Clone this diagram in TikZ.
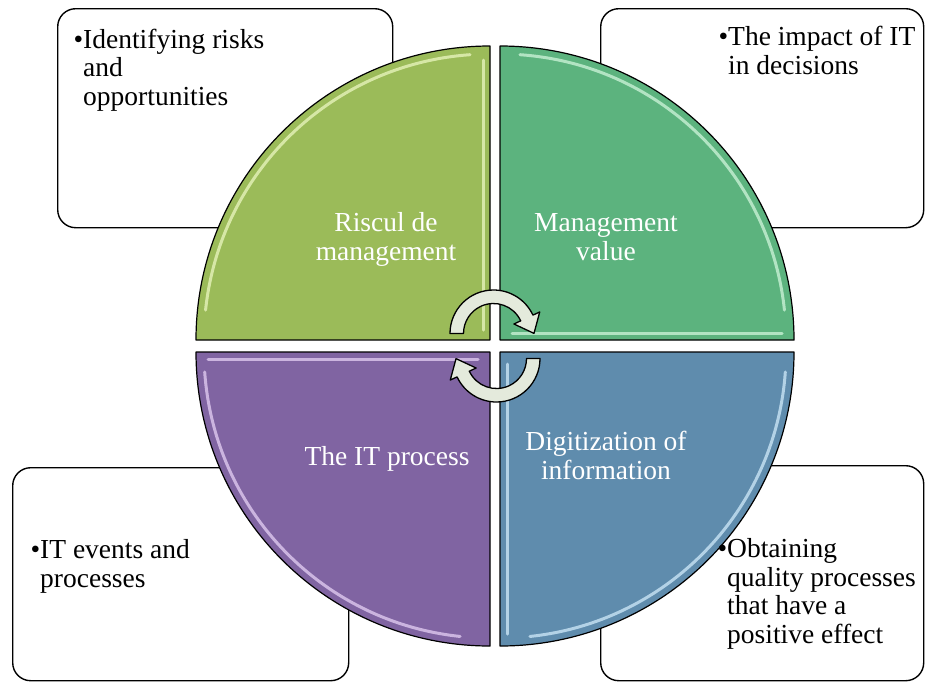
\documentclass[tikz,border=0pt]{standalone}
\usepackage{fontspec}
\setmainfont{Liberation Serif}
\usetikzlibrary{calc}
\definecolor{qgreen}{RGB}{155,187,89}
\definecolor{qteal}{RGB}{92,179,126}
\definecolor{qpurple}{RGB}{128,100,162}
\definecolor{qblue}{RGB}{95,140,173}
\definecolor{rimgreen}{RGB}{240,250,200}
\definecolor{rimteal}{RGB}{215,250,225}
\definecolor{rimpurple}{RGB}{235,215,250}
\definecolor{rimblue}{RGB}{215,240,255}
\definecolor{arrowfill}{RGB}{228,234,220}
\begin{document}
\begin{tikzpicture}[x=1pt,y=-1pt,
  infobox/.style={draw=black, line width=1.4pt, fill=white, rounded corners=18pt, anchor=north west, inner sep=0pt},
  quad/.style={draw=black, line width=1.2pt, line join=round},
  rim/.style={line width=3pt, opacity=0.7, line cap=round},
  qtext/.style={text=white, font=\fontsize{27.5}{28.5}\selectfont, align=center, inner sep=0pt, anchor=base},
  btext/.style={text=black, font=\fontsize{27.5}{28.5}\selectfont, align=left, inner sep=0pt, anchor=base west},
  cyc/.style={fill=arrowfill, draw=black, line width=1.3pt, line join=round}]
\useasboundingbox (0,0) rectangle (925,681);
\fill[white] (0,0) rectangle (925,681);

% info boxes
\node[infobox, minimum width=335pt, minimum height=219pt] (boxTL) at (57,8) {};
\node[infobox, minimum width=323pt, minimum height=219pt] (boxTR) at (600,8) {};
\node[infobox, minimum width=336pt, minimum height=213pt] (boxBL) at (12,467) {};
\node[infobox, minimum width=323pt, minimum height=215pt] (boxBR) at (600,465) {};

% quadrants
\coordinate (O1) at (490,340);
\coordinate (O2) at (500,340);
\coordinate (O3) at (490,352);
\coordinate (O4) at (500,352);
\filldraw[quad, fill=qgreen] (O1) -- ($(O1)+(180:294)$) arc[start angle=180, end angle=270, radius=294] -- cycle;
\filldraw[quad, fill=qteal] (O2) -- ($(O2)+(270:294)$) arc[start angle=270, end angle=360, radius=294] -- cycle;
\filldraw[quad, fill=qpurple] (O3) -- ($(O3)+(90:294)$) arc[start angle=90, end angle=180, radius=294] -- cycle;
\filldraw[quad, fill=qblue] (O4) -- ($(O4)+(0:294)$) arc[start angle=0, end angle=90, radius=294] -- cycle;

% bevel highlights
\draw[rim, draw=rimgreen] ($(O1)+(186:286)$) arc[start angle=186, end angle=266, radius=286];
\draw[rim, draw=rimgreen] (483,60) -- (483,330);
\draw[rim, draw=rimteal] ($(O2)+(274:286)$) arc[start angle=274, end angle=354, radius=286];
\draw[rim, draw=rimteal] (512,333) -- (782,333);
\draw[rim, draw=rimpurple] (208,359) -- (478,359);
\draw[rim, draw=rimpurple] ($(O3)+(96:286)$) arc[start angle=96, end angle=176, radius=286];
\draw[rim, draw=rimblue] (507,364) -- (507,634);
\draw[rim, draw=rimblue] ($(O4)+(4:286)$) arc[start angle=4, end angle=84, radius=286];

% circular arrows
\coordinate (CU) at (493.5,333.5);
\coordinate (CL) at (496.5,358.5);
\draw[cyc] ($(CU)+(180:43.5)$) arc[start angle=180, end angle=335, radius=43.5]
  -- ($(CU)+(335:51)$) -- ($(CU)+(335:36.75)+(65:17)$) -- ($(CU)+(335:22.5)$)
  -- ($(CU)+(335:30)$) arc[start angle=335, end angle=180, radius=30] -- cycle;
\draw[cyc] ($(CL)+(0:43.5)$) arc[start angle=0, end angle=155, radius=43.5]
  -- ($(CL)+(155:51)$) -- ($(CL)+(155:36.75)+(245:17)$) -- ($(CL)+(155:22.5)$)
  -- ($(CL)+(155:30)$) arc[start angle=155, end angle=0, radius=30] -- cycle;

% quadrant labels (anchor = baseline of last line)
\node[qtext] (tRisk) at (386,260) {Riscul de\\management};
\node[qtext] (tValue) at (606,260) {Management\\value};
\node[qtext] (tProc) at (387,465) {The IT process};
\node[qtext] (tDigit) at (606,479) {Digitization of\\information};

% bullet texts (anchor = baseline of last line)
\node[btext] (bTL) at (83,105) {\llap{•}Identifying risks\\and\\opportunities};
\node[btext] (bTR) at (728,74) {\llap{•}The impact of IT\\in decisions};
\node[btext] (bBL) at (40,587) {\llap{•}IT events and\\processes};
\node[btext] (bBR) at (727,643) {\llap{•}Obtaining\\quality processes\\that have a\\positive effect};
\end{tikzpicture}
\end{document}
